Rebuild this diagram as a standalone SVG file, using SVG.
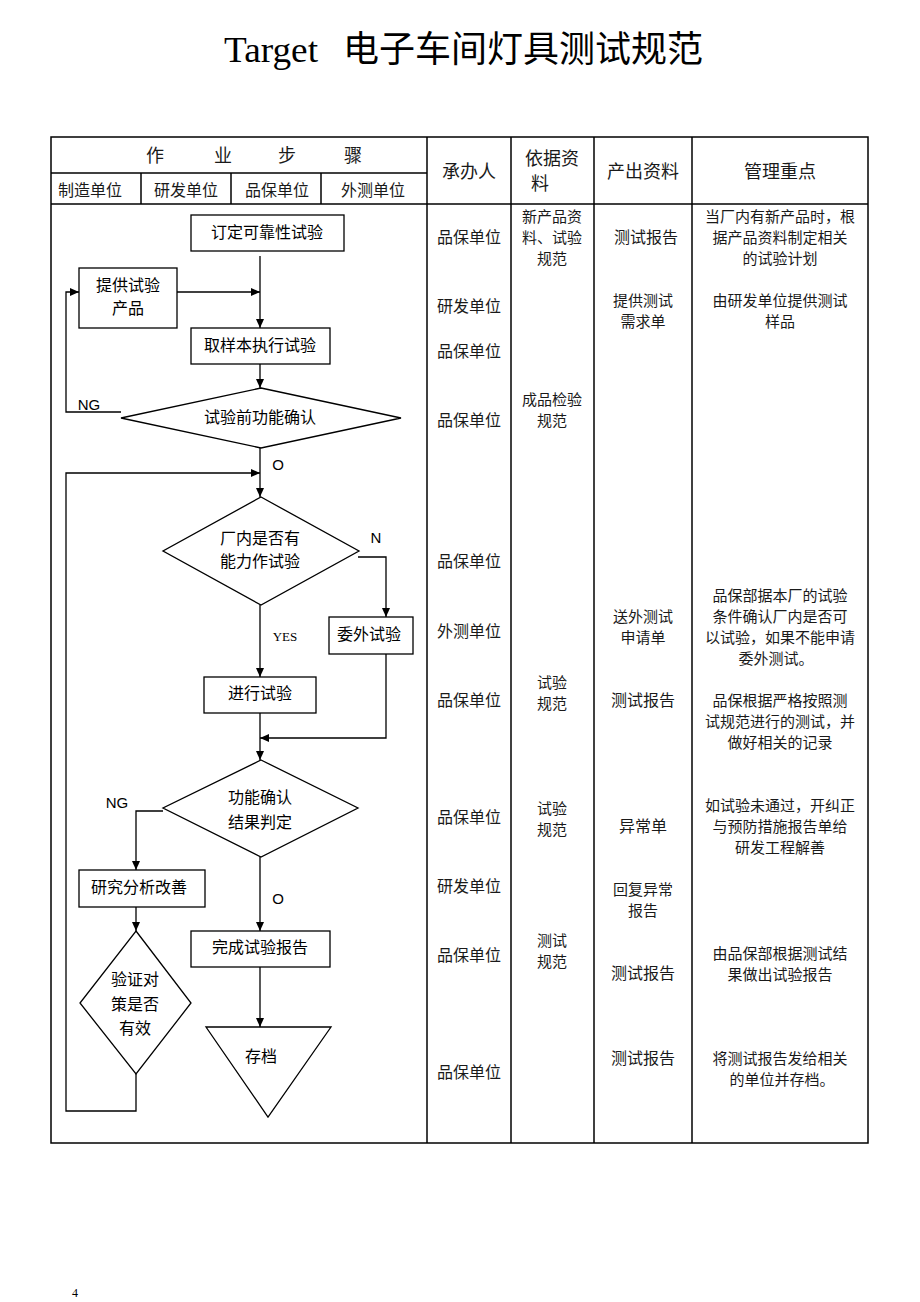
<svg xmlns="http://www.w3.org/2000/svg" width="920" height="1302" viewBox="0 0 920 1302">
<style>
.bg{fill:#fff}
.tb{fill:none;stroke:#000;stroke-width:1.5}
.nd{fill:#fff;stroke:#000;stroke-width:1.3}
.cn{fill:none;stroke:#000;stroke-width:1.3}
.t{font-family:"Noto Sans CJK SC","Liberation Sans",sans-serif;font-size:16px;fill:#000;text-anchor:middle}
.ts{font-family:"Noto Sans CJK SC","Liberation Serif",serif;font-size:16px;fill:#1a1a1a;text-anchor:middle}
.tm{font-family:"Noto Sans CJK SC","Liberation Serif",serif;font-size:15px;fill:#1a1a1a;text-anchor:middle}
.th{font-family:"Noto Sans CJK SC","Liberation Serif",serif;font-size:18px;fill:#1a1a1a;text-anchor:middle}
.lb{font-family:"Liberation Sans",Arial,sans-serif;font-size:15px;fill:#000;text-anchor:middle}
</style>
<defs>
<marker id="ah" markerUnits="userSpaceOnUse" markerWidth="10" markerHeight="10" refX="9" refY="5" orient="auto">
<path d="M0,1 L9,5 L0,9 Z" fill="#000"/>
</marker>
</defs>
<rect class="bg" x="0" y="0" width="920" height="1302"/>

<g id="title">
<text x="224" y="62" font-family="'Liberation Serif','Times New Roman',serif" font-size="36" fill="#000" textLength="94" lengthAdjust="spacingAndGlyphs">Target</text>
<text x="343" y="62" font-family="'Noto Sans CJK SC','Liberation Serif',serif" font-size="36" fill="#000" textLength="360" lengthAdjust="spacingAndGlyphs">电子车间灯具测试规范</text>
</g>

<g id="table">
<rect class="tb" x="51" y="137" width="817" height="1006"/>
<line class="tb" x1="427" y1="137" x2="427" y2="1143"/>
<line class="tb" x1="511" y1="137" x2="511" y2="1143"/>
<line class="tb" x1="594" y1="137" x2="594" y2="1143"/>
<line class="tb" x1="692" y1="137" x2="692" y2="1143"/>
<line class="tb" x1="51" y1="204" x2="868" y2="204"/>
<line class="tb" x1="51" y1="173" x2="427" y2="173"/>
<line class="tb" x1="141" y1="173" x2="141" y2="204"/>
<line class="tb" x1="231" y1="173" x2="231" y2="204"/>
<line class="tb" x1="321" y1="173" x2="321" y2="204"/>
</g>

<g id="header">
<text class="th" x="155" y="162">作</text>
<text class="th" x="223" y="162">业</text>
<text class="th" x="287" y="162">步</text>
<text class="th" x="353" y="162">骤</text>
<text class="ts" x="90" y="196">制造单位</text>
<text class="ts" x="186" y="196">研发单位</text>
<text class="ts" x="277" y="196">品保单位</text>
<text class="ts" x="373" y="196">外测单位</text>
<text class="th" x="469" y="178">承办人</text>
<text class="th" x="552" y="165" font-size="17">依据资</text>
<text class="th" x="540" y="190" font-size="17">料</text>
<text class="th" x="643" y="178">产出资料</text>
<text class="th" x="780" y="178">管理重点</text>
</g>

<g id="col-owner">
<text class="ts" x="469" y="243">品保单位</text>
<text class="ts" x="469" y="312">研发单位</text>
<text class="ts" x="469" y="357">品保单位</text>
<text class="ts" x="469" y="426">品保单位</text>
<text class="ts" x="469" y="567">品保单位</text>
<text class="ts" x="469" y="637">外测单位</text>
<text class="ts" x="469" y="706">品保单位</text>
<text class="ts" x="469" y="823">品保单位</text>
<text class="ts" x="469" y="892">研发单位</text>
<text class="ts" x="469" y="961">品保单位</text>
<text class="ts" x="469" y="1078">品保单位</text>
</g>

<g id="col-basis">
<text class="tm" x="552" y="222">新产品资</text>
<text class="tm" x="552" y="243">料、试验</text>
<text class="tm" x="552" y="264">规范</text>
<text class="tm" x="552" y="405">成品检验</text>
<text class="tm" x="552" y="426">规范</text>
<text class="tm" x="552" y="688">试验</text>
<text class="tm" x="552" y="709">规范</text>
<text class="tm" x="552" y="814">试验</text>
<text class="tm" x="552" y="835">规范</text>
<text class="tm" x="552" y="946">测试</text>
<text class="tm" x="552" y="967">规范</text>
</g>

<g id="col-output">
<text class="ts" x="646" y="243">测试报告</text>
<text class="tm" x="643" y="306">提供测试</text>
<text class="tm" x="643" y="327">需求单</text>
<text class="tm" x="643" y="622">送外测试</text>
<text class="tm" x="643" y="643">申请单</text>
<text class="ts" x="643" y="706">测试报告</text>
<text class="ts" x="643" y="832">异常单</text>
<text class="tm" x="643" y="895">回复异常</text>
<text class="tm" x="643" y="916">报告</text>
<text class="ts" x="643" y="979">测试报告</text>
<text class="ts" x="643" y="1064">测试报告</text>
</g>

<g id="col-notes">
<text class="tm" x="780" y="222">当厂内有新产品时，根</text>
<text class="tm" x="780" y="243">据产品资料制定相关</text>
<text class="tm" x="780" y="264">的试验计划</text>
<text class="tm" x="780" y="306">由研发单位提供测试</text>
<text class="tm" x="780" y="327">样品</text>
<text class="tm" x="780" y="601">品保部据本厂的试验</text>
<text class="tm" x="780" y="622">条件确认厂内是否可</text>
<text class="tm" x="780" y="643">以试验，如果不能申请</text>
<text class="tm" x="776" y="664">委外测试。</text>
<text class="tm" x="780" y="706">品保根据严格按照测</text>
<text class="tm" x="780" y="727">试规范进行的测试，并</text>
<text class="tm" x="780" y="748">做好相关的记录</text>
<text class="tm" x="780" y="811">如试验未通过，开纠正</text>
<text class="tm" x="780" y="832">与预防措施报告单给</text>
<text class="tm" x="780" y="853">研发工程解善</text>
<text class="tm" x="780" y="959">由品保部根据测试结</text>
<text class="tm" x="780" y="980">果做出试验报告</text>
<text class="tm" x="780" y="1064">将测试报告发给相关</text>
<text class="tm" x="782" y="1085">的单位并存档。</text>
</g>

<g id="connectors">
<polyline class="cn" points="260,256 260,328" marker-end="url(#ah)"/>
<polyline class="cn" points="177,292 260,292" marker-end="url(#ah)"/>
<polyline class="cn" points="260,364 260,388" marker-end="url(#ah)"/>
<polyline class="cn" points="121,412 66,412 66,292 79,292" marker-end="url(#ah)"/>
<polyline class="cn" points="260,448 260,497" marker-end="url(#ah)"/>
<polyline class="cn" points="136,1074 136,1111 66,1111 66,473 260,473" marker-end="url(#ah)"/>
<polyline class="cn" points="358,557 386,557 386,617" marker-end="url(#ah)"/>
<polyline class="cn" points="260,605 260,677" marker-end="url(#ah)"/>
<polyline class="cn" points="386,654 386,738 260,738" marker-end="url(#ah)"/>
<polyline class="cn" points="260,713 260,760" marker-end="url(#ah)"/>
<polyline class="cn" points="163,811 136,811 136,870" marker-end="url(#ah)"/>
<polyline class="cn" points="136,907 136,931" marker-end="url(#ah)"/>
<polyline class="cn" points="260,857 260,931" marker-end="url(#ah)"/>
<polyline class="cn" points="260,967 260,1027" marker-end="url(#ah)"/>
<text class="lb" x="89" y="410">NG</text>
<text class="lb" x="278" y="470">O</text>
<text class="lb" x="376" y="543">N</text>
<text x="285" y="641" font-family="'Liberation Serif','Times New Roman',serif" font-size="13" text-anchor="middle" fill="#000">YES</text>
<text class="lb" x="117" y="808">NG</text>
<text class="lb" x="278" y="904">O</text>
</g>

<g id="n-plan">
<rect class="nd" x="191" y="215" width="153" height="36"/>
<text class="t" x="267" y="238">订定可靠性试验</text>
</g>
<g id="n-provide">
<rect class="nd" x="79" y="268" width="98" height="60"/>
<text class="t" x="128" y="291">提供试验</text>
<text class="t" x="128" y="314">产品</text>
</g>
<g id="n-sample">
<rect class="nd" x="191" y="328" width="139" height="36"/>
<text class="t" x="260" y="351">取样本执行试验</text>
</g>
<g id="n-precheck">
<polygon class="nd" points="261,388 401,418 261,448 121,418"/>
<text class="t" x="260" y="423">试验前功能确认</text>
</g>
<g id="n-capable">
<polygon class="nd" points="261,497 359,551 261,605 163,551"/>
<text class="t" x="260" y="544">厂内是否有</text>
<text class="t" x="260" y="567">能力作试验</text>
</g>
<g id="n-outsource">
<rect class="nd" x="329" y="617" width="84" height="37"/>
<text class="t" x="369" y="640" font-size="14">委外试验</text>
</g>
<g id="n-test">
<rect class="nd" x="204" y="677" width="112" height="36"/>
<text class="t" x="260" y="699">进行试验</text>
</g>
<g id="n-judge">
<polygon class="nd" points="261,760 358,808 261,857 163,808"/>
<text class="t" x="260" y="803">功能确认</text>
<text class="t" x="260" y="828">结果判定</text>
</g>
<g id="n-improve">
<rect class="nd" x="79" y="870" width="126" height="37"/>
<text class="t" x="139" y="893">研究分析改善</text>
</g>
<g id="n-verify">
<polygon class="nd" points="136,931 191,1003 136,1074 80,1003"/>
<text class="t" x="135" y="985" font-size="14">验证对</text>
<text class="t" x="135" y="1010" font-size="14">策是否</text>
<text class="t" x="135" y="1034">有效</text>
</g>
<g id="n-report">
<rect class="nd" x="191" y="931" width="139" height="36"/>
<text class="t" x="260" y="953">完成试验报告</text>
</g>
<g id="n-archive">
<polygon class="nd" points="206,1027 331,1027 268,1117"/>
<text class="t" x="261" y="1062" font-size="19">存档</text>
</g>

<text x="75" y="1297" font-family="'Liberation Serif','Times New Roman',serif" font-size="12" text-anchor="middle" fill="#000">4</text>
</svg>
